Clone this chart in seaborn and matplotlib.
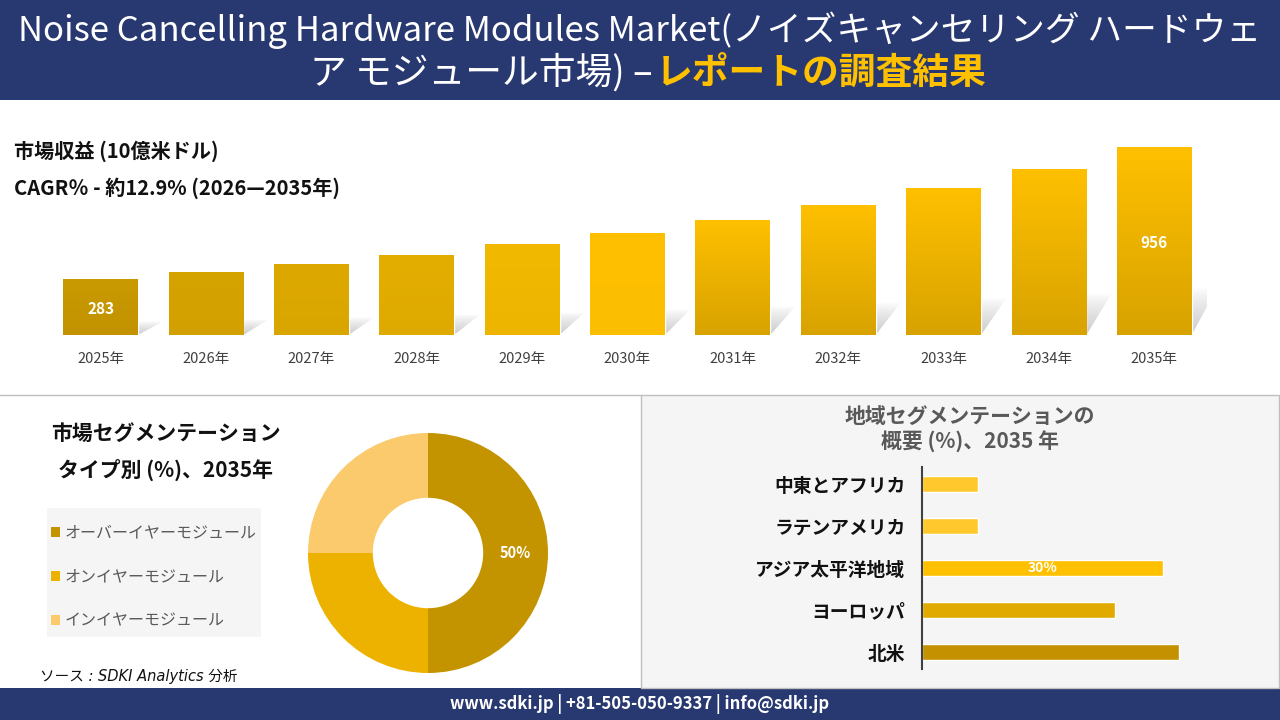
import numpy as np
import pandas as pd
import matplotlib
matplotlib.use("Agg")
import matplotlib.pyplot as plt
from matplotlib.patches import Rectangle, Patch, Polygon
from matplotlib.colors import to_rgb
import seaborn as sns

# market size (10億米ドル)
years = ["2025年", "2026年", "2027年", "2028年", "2029年", "2030年",
         "2031年", "2032年", "2033年", "2034年", "2035年"]
revenue = [283, 320, 361, 407, 460, 519, 586, 662, 747, 843, 956]
revenue_labels = {0: "283", 10: "956"}

# type segmentation 2035 (%)
types = ["オーバーイヤーモジュール", "オンイヤーモジュール", "インイヤーモジュール"]
type_share = [50, 25, 25]

# regional segmentation 2035 (%)
regions = ["中東とアフリカ", "ラテンアメリカ", "アジア太平洋地域", "ヨーロッパ", "北米"]
region_share = [7, 7, 30, 24, 32]

NAVY = "#283870"
JP = ["Noto Sans CJK JP", "DejaVu Sans"]

sns.set_theme(style="white")
plt.rcParams["font.family"] = JP


def fx(x):
    return x / 1280


def fy(y):
    return 1 - y / 720


fig = plt.figure(figsize=(12.8, 7.2), dpi=100)
fig.patch.set_facecolor("white")

# header / footer bands and panels
fig.add_artist(Rectangle((0, fy(100)), 1, 100 / 720, transform=fig.transFigure,
                         facecolor=NAVY, edgecolor="none", zorder=0))
fig.add_artist(Rectangle((0, 0), 1, 32 / 720, transform=fig.transFigure,
                         facecolor=NAVY, edgecolor="none", zorder=0))
fig.add_artist(Rectangle((fx(641), fy(688)), fx(638), 293 / 720, transform=fig.transFigure,
                         facecolor="#F5F5F5", edgecolor="#BFBFBF", lw=1, zorder=0))
fig.add_artist(plt.Line2D([0, fx(641)], [fy(395), fy(395)], transform=fig.transFigure,
                          color="#BFBFBF", lw=1, zorder=0))
# legend background box
fig.add_artist(Rectangle((fx(47), fy(637)), fx(214), 129 / 720, transform=fig.transFigure,
                         facecolor="#F5F5F5", edgecolor="none", zorder=0))

# title
fig.text(0.5, fy(30), "Noise Cancelling Hardware Modules Market(ノイズキャンセリング ハードウェ",
         ha="center", va="center", color="white", fontsize=25)
fig.text(fx(653), fy(73), "ア モジュール市場) –", ha="right", va="center",
         color="white", fontsize=26.5)
fig.text(fx(656), fy(73), "レポートの調査結果", ha="left", va="center",
         color="#FFC000", fontsize=26.5, fontweight="bold")

fig.text(fx(14), fy(151), "市場収益 (10億米ドル)", ha="left", va="center",
         fontsize=14.5, fontweight="bold", color="#111111")
fig.text(fx(14), fy(188), "CAGR％ - 約12.9% (2026—2035年)", ha="left", va="center",
         fontsize=14.5, fontweight="bold", color="#111111")

# ---- revenue bars ----
ax1 = fig.add_axes([fx(48), fy(335), fx(1159), 197 / 720])
df_rev = pd.DataFrame({"year": years, "revenue": revenue})
sns.barplot(data=df_rev, x="year", y="revenue", ax=ax1, width=0.71,
            color="#FFC000", saturation=1, zorder=3)

tops = ["#C99A00", "#D6A400", "#DDA900", "#E4AE00", "#F2B900", "#FFC000",
        "#FFC000", "#FFC000", "#FFC000", "#FFC000", "#FFC000"]
bottoms = ["#C29200", "#D2A000", "#D9A600", "#DFAA00", "#EDB500", "#FBBE00",
           "#D8A300", "#D8A300", "#D8A300", "#D8A300", "#D8A300"]
t = np.linspace(0, 1, 64)[:, None]
for i, p in enumerate(list(ax1.patches)):
    x0, w, h = p.get_x(), p.get_width(), p.get_height()
    c0, c1 = np.array(to_rgb(bottoms[i])), np.array(to_rgb(tops[i]))
    grad = (c0 * (1 - t) + c1 * t)[:, None, :]
    im = ax1.imshow(grad, extent=[x0, x0 + w, 0, h], origin="lower",
                    aspect="auto", zorder=4)
    im.set_clip_path(p)
    # soft grey shadow cast to the right of each bar
    dx, sh_h = 0.24, 0.25 * h
    sh = Polygon([(x0, 0), (x0 + w, 0), (x0 + w + dx, sh_h), (x0 + dx, sh_h)],
                 closed=True, facecolor="none", edgecolor="none")
    ax1.add_patch(sh)
    shade = np.zeros((64, 1, 4))
    shade[..., :3] = 0.55
    shade[..., 3] = 0.45 * (1 - t) ** 0.8
    sim = ax1.imshow(shade, extent=[x0, x0 + w + dx, 0, sh_h], origin="lower",
                     aspect="auto", zorder=1, interpolation="bilinear")
    sim.set_clip_path(sh)
ax1.set_ylim(0, 1000)
ax1.set_xlim(-0.5, len(years) - 0.5)

for i, lab in revenue_labels.items():
    ax1.text(i, revenue[i] / 2 - 10, lab, ha="center", va="center", color="white",
             fontsize=11, fontweight="bold", zorder=6)

ax1.set_xlabel("")
ax1.set_ylabel("")
ax1.set_yticks([])
ax1.tick_params(axis="x", length=0, pad=12, labelsize=10.5, labelcolor="#404040")
for s in ax1.spines.values():
    s.set_visible(False)
ax1.patch.set_alpha(0)

# ---- donut ----
fig.text(fx(166), fy(433), "市場セグメンテーション", ha="center", va="center",
         fontsize=15, fontweight="bold", color="#111111")
fig.text(fx(166), fy(470), "タイプ別 (%)、2035年", ha="center", va="center",
         fontsize=15, fontweight="bold", color="#111111")

type_colors = ["#C49300", "#EDB100", "#FBCA6C"]
ax2 = fig.add_axes([fx(308), fy(673), fx(240), 240 / 720])
wedges, _ = ax2.pie(type_share, colors=type_colors, startangle=90, counterclock=False,
                    wedgeprops=dict(width=0.54, edgecolor="none"))
ang = np.deg2rad((wedges[0].theta1 + wedges[0].theta2) / 2)
ax2.text(0.73 * np.cos(ang), 0.73 * np.sin(ang), f"{type_share[0]}%", ha="center",
         va="center", color="white", fontsize=10.5, fontweight="bold")
ax2.set_xlim(-1, 1)
ax2.set_ylim(-1, 1)
ax2.set_aspect("equal")

handles = [Patch(facecolor=c, edgecolor="none") for c in type_colors]
leg = fig.legend(handles, types, loc="upper left", bbox_to_anchor=(fx(45), fy(518)),
                 frameon=False, fontsize=11.5, labelcolor="#595959",
                 handlelength=0.55, handleheight=0.55, handletextpad=0.3,
                 labelspacing=1.7, borderpad=0.4, borderaxespad=0)

fig.text(fx(40), fy(676), "ソース : SDKI Analytics 分析", ha="left", va="center",
         fontsize=10.5, style="italic", color="#111111",
         family=["DejaVu Sans", "Noto Sans CJK JP"])

# ---- regional bars ----
fig.text(fx(970), fy(416), "地域セグメンテーションの", ha="center", va="center",
         fontsize=15, fontweight="bold", color="#595959")
fig.text(fx(970), fy(442), "概要 (%)、2035 年", ha="center", va="center",
         fontsize=15, fontweight="bold", color="#595959")

region_colors = ["#FFC92E", "#FFC92E", "#FFC000", "#E0AA00", "#C49100"]
ax3 = fig.add_axes([fx(922), fy(673), fx(321), 210 / 720])
df_reg = pd.DataFrame({"region": regions, "share": region_share})
sns.barplot(data=df_reg, y="region", x="share", hue="region", palette=region_colors,
            legend=False, ax=ax3, width=0.4, saturation=1, orient="h")
ax3.set_xlim(0, 40)
ax3.set_ylim(len(regions) - 0.5, -0.5)
i_ap = regions.index("アジア太平洋地域")
ax3.text(region_share[i_ap] / 2, i_ap, f"{region_share[i_ap]}%", ha="center",
         va="center", color="white", fontsize=10, fontweight="bold")
ax3.set_xlabel("")
ax3.set_ylabel("")
ax3.set_xticks([])
ax3.tick_params(axis="y", length=0, pad=12, labelsize=13.5)
for lbl in ax3.get_yticklabels():
    lbl.set_fontweight("bold")
    lbl.set_color("#111111")
for name, s in ax3.spines.items():
    s.set_visible(name == "left")
ax3.spines["left"].set_color("#404040")
ax3.spines["left"].set_linewidth(1.5)
ax3.spines["left"].set_bounds(-0.4, 4.4)
ax3.patch.set_alpha(0)

# footer
fig.text(0.5, fy(704), "www.sdki.jp | +81-505-050-9337 | info@sdki.jp", ha="center",
         va="center", color="white", fontsize=12, fontweight="bold")

fig.savefig("out.png", dpi=100)
